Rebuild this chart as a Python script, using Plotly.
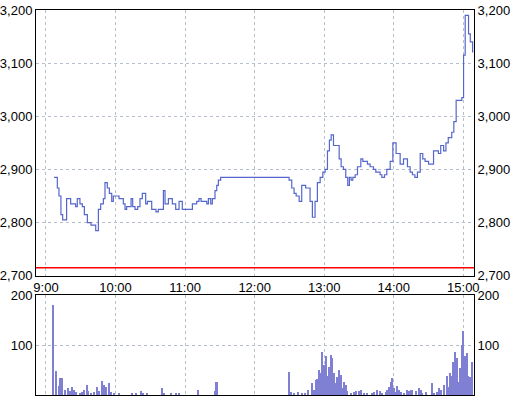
import plotly.graph_objects as go

# minutes after 9:00 where the price changes, and the new price
price_min = [7, 9.8, 11.2, 12.9, 14.4, 17.8, 21.3, 25.6, 27, 29.3, 31.4, 33.1, 35.7, 38.8, 42.9,
             45.2, 47.2, 49.5, 50.9, 52.9, 54.7, 56.7, 58.1, 63, 66.7, 68.2, 69.6, 73.4, 74.8,
             76.8, 79.1, 81.1, 83.1, 86, 87.5, 91.2, 94.9, 96.9, 101.3, 102.7, 105.6, 109, 111.9,
             114.8, 117.6, 126.3, 130, 132, 133.8, 138.7, 140.1, 142.1, 143.5, 145.8, 147.3, 148.7,
             150.7, 209.7, 212, 214, 215.8, 218.4, 220.6, 224, 227.8, 229.8, 232.1, 234.1, 236.5,
             238.8, 240.8, 242.8, 244.5, 246, 248, 252.9, 254.6, 256.6, 258.6, 260.3, 261.7, 263.2,
             264.7, 266.7, 268.7, 271.6, 273.3, 277.3, 279.6, 282.5, 284.5, 288.2, 289.7, 292, 294,
             296.9, 299.2, 302, 305.5, 308.4, 311.8, 314.1, 316.1, 318.2, 320.4, 322.8, 325, 327,
             330, 334.3, 338.5, 340.5, 343, 345, 347, 350, 351.8, 353.8, 358.7, 360.2, 361.6, 364.5,
             366, 368]
price = [2885, 2865, 2850, 2815, 2805, 2845, 2835, 2830, 2845, 2835, 2830, 2815, 2800, 2795, 2785,
         2825, 2835, 2845, 2875, 2865, 2855, 2840, 2850, 2845, 2835, 2825, 2830, 2845, 2830,
         2825, 2830, 2845, 2855, 2835, 2840, 2825, 2820, 2825, 2860, 2835, 2845, 2835, 2825,
         2840, 2825, 2835, 2840, 2845, 2840, 2835, 2845, 2835, 2845, 2860, 2870, 2880,
         2885, 2880, 2865, 2855, 2850, 2840, 2870, 2865, 2840, 2810, 2840, 2875, 2885,
         2895, 2900, 2935, 2955, 2965, 2945, 2920, 2905, 2900, 2885, 2870, 2885, 2880,
         2885, 2890, 2905, 2920, 2915, 2910, 2905, 2900, 2895, 2890, 2885, 2890, 2900,
         2915, 2950, 2930, 2910, 2920, 2905, 2895, 2890, 2885, 2895, 2930, 2920, 2915,
         2910, 2935, 2930, 2945, 2935, 2950, 2960, 2970, 2990, 3030, 3035, 3115, 3190, 3155,
         3140, 3120]

vol_min = [6.5, 9.2, 11.1, 12.4, 14.1, 16.8, 18.8, 20.7, 22.9, 24.3, 26, 29.6, 31.5, 32.9, 35.2,
           36.7, 39.1, 42, 44.6, 46, 48.5, 50.2, 51.9, 54.8, 56.5, 58.8, 63.4, 74.6, 77.5, 82.3,
           84.1, 87.6, 100.5, 102, 107.7, 112, 114.9, 131.5, 145.7, 147.3, 209.8, 211.9, 214.2,
           217.9, 221.4, 223.7, 226.5, 229.4, 231.4, 232.9, 234.3, 235.7, 237.2, 238.6, 240.1,
           241.5, 243, 244.4, 245.8, 247.3, 248.7, 250.1, 251.6, 253, 254.4, 255.9, 257.3, 258.8,
           260.2, 263.1, 266, 267.4, 270.3, 271.7, 274.6, 277.4, 281.8, 283.2, 285.5, 288.4,
           290.4, 293.3, 294.7, 296.2, 297.6, 299, 300.4, 301.9, 303.3, 304.8, 306.2, 309.1, 312,
           313.4, 314.9, 316.3, 319.2, 322.1, 323.5, 324.9, 327.8, 333.5, 335, 337.9, 339.3,
           340.7, 343.6, 345.9, 347.3, 348.8, 350.2, 351.7, 353.1, 354.5, 356, 357.4, 358.9,
           360.3, 361.7, 363.2, 364.6, 366, 367.5]
vol = [180, 48, 17, 33, 33, 9, 13, 8, 15, 9, 5, 3, 5, 10, 20,
       8, 3, 5, 15, 8, 28, 20, 16, 23, 5, 3, 2, 2, 3, 8,
       3, 2, 13, 3, 3, 3, 2, 9, 8, 26, 46, 5, 2,
       5, 2, 3, 9, 24, 9, 30, 31, 50, 44, 85, 60,
       78, 38, 56, 80, 73, 44, 23, 36, 50, 40, 13, 25, 20,
       8, 3, 5, 8, 8, 9, 2, 3, 3, 5, 10, 8,
       3, 5, 9, 16, 25, 33, 13, 5, 17, 9, 5, 3, 9,
       8, 10, 9, 8, 13, 9, 3, 5, 23, 2, 5, 13,
       10, 20, 38, 16, 44, 38, 66, 86, 73, 25, 53, 100,
       127, 78, 83, 38, 36, 66]

base_line = 2715
hour_ticks = [0, 60, 120, 180, 240, 300, 360]
hour_labels = ["9:00", "10:00", "11:00", "12:00", "13:00", "14:00", "15:00"]
price_ticks = [2700, 2800, 2900, 3000, 3100, 3200]
vol_ticks = [100, 200]

line_col = "#5566cc"
bar_col = "#7f7fd4"
grid_col = "#b6bfcc"
W, H = 511, 403

fig = go.Figure()
fig.add_trace(go.Scatter(x=price_min, y=price, mode="lines", line=dict(color=line_col, width=1.2, shape="hv"),
                         xaxis="x", yaxis="y", showlegend=False))
fig.add_trace(go.Scatter(x=price_min, y=price, mode="lines", line=dict(width=0), opacity=0,
                         xaxis="x", yaxis="y3", showlegend=False, hoverinfo="skip"))
fig.add_trace(go.Bar(x=vol_min, y=vol, width=1.3, marker=dict(color=bar_col, line=dict(width=0)),
                     xaxis="x2", yaxis="y2", showlegend=False))
fig.add_trace(go.Bar(x=vol_min, y=vol, width=1.3, opacity=0, marker=dict(line=dict(width=0)),
                     xaxis="x2", yaxis="y4", showlegend=False, hoverinfo="skip"))

fig.add_shape(type="line", xref="x domain", yref="y", x0=0, x1=1, y0=base_line, y1=base_line,
              line=dict(color="#ff0000", width=1.5))

# plot area: x 36..474 px, top panel y 10..275.5 px, volume panel y 295..394.7 px
ph = H - 10 - 8.3
ytop = [(H - 275.5 - 8.3) / ph, 1]
ybot = [0, (H - 295 - 8.3) / ph]
xr = [-8.6, 369.2]
font = dict(family="Liberation Sans, Arial", size=13, color="black")

ax = dict(showline=True, linecolor="black", linewidth=1, mirror=True, showgrid=True,
          gridcolor=grid_col, griddash="3px,3px", gridwidth=1, zeroline=False, ticks="",
          tickfont=font, fixedrange=True, automargin=False)

fig.update_layout(
    width=W, height=H, margin=dict(l=36, r=W - 474, t=10, b=8.3, pad=0),
    paper_bgcolor="white", plot_bgcolor="white", bargap=0,
    xaxis=dict(ax, domain=[0, 1], anchor="y", range=xr, tickvals=hour_ticks, ticktext=hour_labels),
    yaxis=dict(ax, domain=ytop, anchor="x", range=[2700, 3200], tickvals=price_ticks, tickformat=",d"),
    yaxis3=dict(ax, overlaying="y", side="right", anchor="x", range=[2700, 3200], tickvals=price_ticks,
                tickformat=",d", showgrid=False),
    xaxis2=dict(ax, domain=[0, 1], anchor="y2", range=xr, tickvals=hour_ticks, showticklabels=False),
    yaxis2=dict(ax, domain=ybot, anchor="x2", range=[0, 200], tickvals=vol_ticks),
    yaxis4=dict(ax, overlaying="y2", side="right", anchor="x2", range=[0, 200], tickvals=vol_ticks,
                showgrid=False),
)

fig.write_html("out.html", config={"displayModeBar": False},
               post_script="document.body.style.margin='0';")
